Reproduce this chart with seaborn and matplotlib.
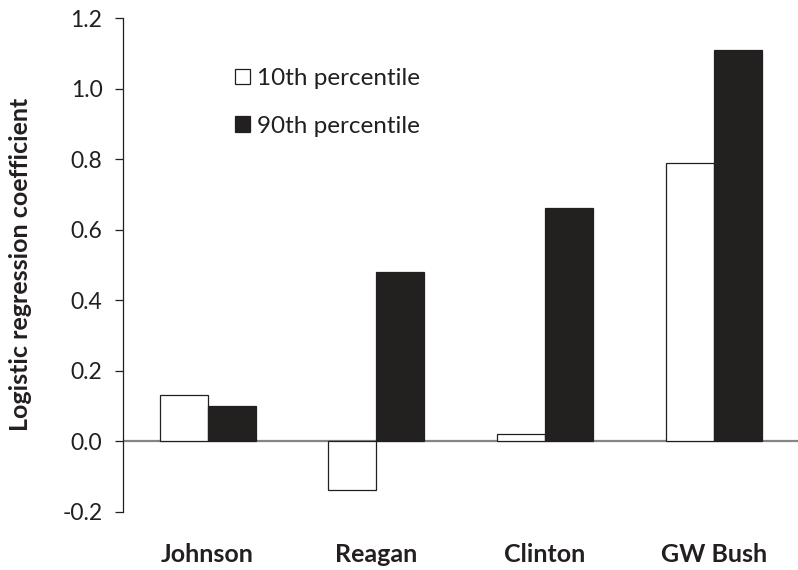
import numpy as np
import pandas as pd
import seaborn as sns
import matplotlib.pyplot as plt
from matplotlib.ticker import FormatStrFormatter

# 数据
presidents = ["Johnson", "Reagan", "Clinton", "GW Bush"]
groups = ["10th percentile", "90th percentile"]
p10 = [0.13, -0.14, 0.02, 0.79]
p90 = [0.10, 0.48, 0.66, 1.11]

df = pd.DataFrame({
    "president": presidents * 2,
    "group": [groups[0]] * 4 + [groups[1]] * 4,
    "coef": p10 + p90,
})

sns.set_style("white")
plt.rcParams['font.family'] = ['Lato', 'DejaVu Sans']
plt.rcParams['axes.unicode_minus'] = False

dark = "#231f20"
fig = plt.figure(figsize=(7.98, 5.70), dpi=100)
ax = fig.add_axes([0.1545, 0.1026, 0.8455, 0.8658])

sns.barplot(data=df, x="president", y="coef", hue="group", order=presidents,
            hue_order=groups, palette=["white", dark], width=0.57,
            edgecolor=dark, linewidth=0.9, errorbar=None, ax=ax, zorder=3)

ax.axhline(0, color="#858585", lw=1.6, zorder=2)
ax.set_xlim(-0.5, 3.5)
ax.set_ylim(-0.2, 1.2)
ax.set_yticks(np.arange(-0.2, 1.21, 0.2))
ax.yaxis.set_major_formatter(FormatStrFormatter("%.1f"))

# 边框
for s in ["top", "right", "bottom"]:
    ax.spines[s].set_visible(False)
ax.spines["left"].set_color(dark)
ax.spines["left"].set_linewidth(0.9)

ax.tick_params(axis="y", direction="out", length=6, width=0.9, color=dark,
               labelsize=16.5, labelcolor=dark, pad=9, left=True)
ax.tick_params(axis="x", length=0, pad=23, labelsize=18, labelcolor=dark)
for t in ax.get_xticklabels():
    t.set_fontweight("bold")

ax.set_xlabel("")
ax.set_ylabel("Logistic regression coefficient", fontsize=18, fontweight="bold",
              color=dark)
ax.yaxis.set_label_coords(-0.136, 0.5)

# 图例
ax.legend(title=None, frameon=False, loc="upper left",
          bbox_to_anchor=(0.133, 0.943), fontsize=17.5, handlelength=0.62,
          handleheight=0.62, handletextpad=0.3, labelspacing=1.1,
          labelcolor=dark)

plt.savefig("out.png", dpi=100)
